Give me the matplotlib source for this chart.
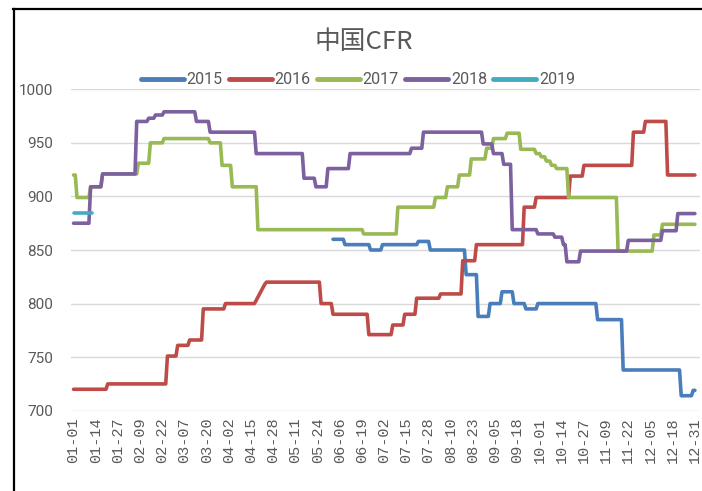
import numpy as np
import matplotlib
matplotlib.use("Agg")
import matplotlib.pyplot as plt
from matplotlib.lines import Line2D

# ---- data (step change points: day-of-year index, value) ----
tick_labels = ["01-01", "01-14", "01-27", "02-09", "02-22", "03-07", "03-20", "04-02",
               "04-15", "04-28", "05-11", "05-24", "06-06", "06-19", "07-02", "07-15",
               "07-28", "08-10", "08-23", "09-05", "09-18", "10-01", "10-14", "10-27",
               "11-09", "11-22", "12-05", "12-18", "12-31"]
y_ticks = [700, 750, 800, 850, 900, 950, 1000]

days_2015 = [152, 159, 174, 181, 202, 209, 230, 237, 244, 251, 258, 265, 272, 307, 322, 356, 363]
vals_2015 = [860, 855, 850, 855, 858, 850, 827, 788, 800, 811, 800, 795, 800, 785, 738, 714, 719]
end_2015 = 364

days_2016 = [0, 20, 55, 61, 68, 76, 89, 107, 108, 109, 110, 111, 112, 113, 145, 152, 173, 187,
             194, 201, 215, 228, 236, 264, 271, 291, 299, 328, 335, 348]
vals_2016 = [720, 725, 751, 761, 766, 795, 800, 803, 806, 809, 812, 815, 818, 820, 800, 790, 771, 780,
             790, 805, 809, 840, 855, 890, 899, 919, 929, 960, 970, 920]
end_2016 = 364

days_2017 = [0, 2, 10, 17, 38, 45, 53, 80, 87, 93, 108, 170, 190, 212, 219, 226, 233, 242,
             246, 254, 262, 271, 274, 277, 280, 283, 290, 319, 340, 345]
vals_2017 = [920, 899, 909, 921, 931, 950, 954, 950, 929, 909, 869, 865, 890, 899, 909, 920, 935, 945,
             954, 959, 944, 940, 937, 933, 929, 926, 899, 849, 864, 874]
end_2017 = 364

days_2018 = [0, 10, 17, 37, 44, 48, 53, 72, 80, 107, 135, 142, 149, 162, 198, 205, 240, 246,
             252, 257, 272, 282, 287, 289, 297, 325, 345, 354]
vals_2018 = [875, 909, 921, 970, 973, 976, 979, 970, 960, 940, 917, 909, 926, 940, 945, 960, 949, 940,
             930, 869, 865, 862, 855, 839, 849, 859, 868, 884]
end_2018 = 364

days_2019 = [0]
vals_2019 = [885]
end_2019 = 11

series = [
    ("2015", days_2015, vals_2015, end_2015, "#4A7EBB"),
    ("2016", days_2016, vals_2016, end_2016, "#BE4B48"),
    ("2017", days_2017, vals_2017, end_2017, "#98B954"),
    ("2018", days_2018, vals_2018, end_2018, "#7D60A0"),
    ("2019", days_2019, vals_2019, end_2019, "#46AAC5"),
]


def expand(days, vals, end):
    x = np.arange(days[0], end + 1)
    y = np.empty(len(x))
    for i, d in enumerate(days):
        nxt = days[i + 1] if i + 1 < len(days) else end + 1
        y[d - days[0]:nxt - days[0]] = vals[i]
    return x, y


narrow = ["Roboto", "DejaVu Sans"]
grey = "#595959"

fig = plt.figure(figsize=(7.02, 4.91), dpi=100)
ax = fig.add_axes([71 / 702, 1 - 410.7 / 491, (700 - 71) / 702, (410.7 - 89.3) / 491])

for name, d, v, e, c in series:
    x, y = expand(d, v, e)
    ax.plot(x, y, color=c, lw=2.6, label=name, solid_joinstyle="round", solid_capstyle="round")

ax.set_xlim(-1.5, 367)
ax.set_ylim(700, 1000)
ax.set_yticks(y_ticks)
ax.set_yticklabels([str(t) for t in y_ticks], family=narrow, fontsize=11, color=grey)
ax.set_xticks(np.arange(0, 365, 13))
ax.set_xticklabels(tick_labels, rotation=90, family=["Liberation Mono", "DejaVu Sans Mono"],
                   fontsize=11, color=grey)
ax.tick_params(axis="both", length=0)
ax.tick_params(axis="y", pad=13)
ax.tick_params(axis="x", pad=5)
ax.grid(axis="y", color="#D9D9D9", lw=1)
ax.set_axisbelow(True)
for s in ax.spines.values():
    s.set_visible(False)

fig.text(364 / 702, 1 - 42 / 491, "中国CFR", ha="center", va="center", fontsize=18.5,
         color=grey, family=["Noto Sans CJK SC", "DejaVu Sans"])

leg = fig.legend(loc="center", bbox_to_anchor=(358 / 702, 1 - 80 / 491), ncol=5, frameon=False,
                 handlelength=2.7, handletextpad=0.15, columnspacing=0.4,
                 prop={"family": narrow, "size": 11.5})
for t in leg.get_texts():
    t.set_color(grey)
for h in leg.get_lines():
    h.set_linewidth(3.5)

# outer frame (top and left)
fig.add_artist(Line2D([13 / 702, 1], [1 - 9 / 491, 1 - 9 / 491], transform=fig.transFigure,
                      color="black", lw=1.6))
fig.add_artist(Line2D([14 / 702, 14 / 702], [0, 1 - 9 / 491], transform=fig.transFigure,
                      color="black", lw=1.6))

fig.savefig("out.png", dpi=100)
